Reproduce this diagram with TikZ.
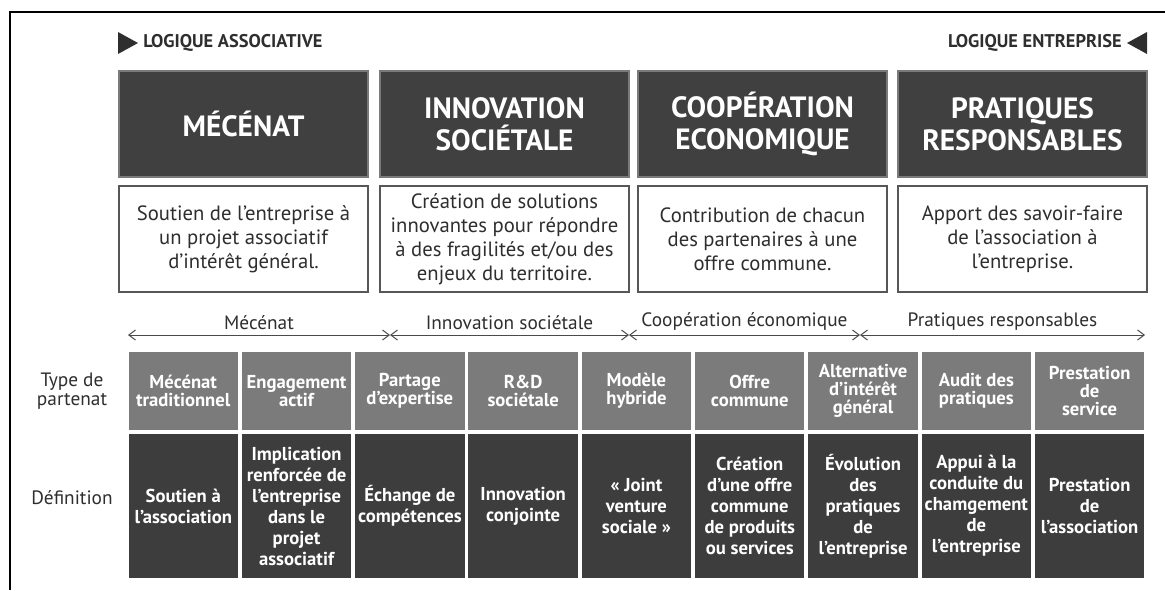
\documentclass[tikz,border=0pt]{standalone}
\usepackage{fontspec}
\setmainfont{PT Sans}
\usepackage{xcolor}
\usetikzlibrary{positioning,arrows.meta}
\definecolor{headfill}{HTML}{404040}
\definecolor{headline}{HTML}{7A7A7A}
\definecolor{boxline}{HTML}{575757}
\definecolor{textgray}{HTML}{2E2E2E}
\definecolor{cellgray}{HTML}{7B7B7B}
\definecolor{celldark}{HTML}{3D3D3D}
\definecolor{spanline}{HTML}{4A4A4A}

\begin{document}
\begin{tikzpicture}[x=0.75pt, y=-0.75pt,
    headbox/.style={draw=headline, line width=0.8pt, fill=headfill, text=white,
      font=\bfseries\fontsize{22}{24}\selectfont, align=center,
      minimum width=186.75pt, minimum height=79.5pt, inner sep=0pt},
    defbox/.style={draw=boxline, line width=1pt, fill=white, text=textgray,
      font=\fontsize{15.5}{18}\selectfont, align=center,
      minimum width=186.75pt, minimum height=79.5pt, inner sep=0pt},
    typecell/.style={fill=cellgray, text=white,
      font=\bfseries\fontsize{14}{13.5}\selectfont, align=center,
      minimum width=82.1pt, minimum height=58.5pt, inner sep=0pt},
    defcell/.style={fill=celldark, text=white,
      font=\bfseries\fontsize{14}{15.75}\selectfont, align=center,
      minimum width=82.1pt, minimum height=108pt, inner sep=0pt},
    rowlabel/.style={text=textgray, font=\fontsize{14.5}{14}\selectfont, align=center},
    logique/.style={text=textgray, font=\bfseries\fontsize{13.8}{14}\selectfont, inner sep=0pt},
    spanlabel/.style={text=textgray, font=\fontsize{14.5}{14}\selectfont},
    span/.style={draw=spanline, line width=0.75pt,
      {Straight Barb[length=5pt,width=7.5pt]}-{Straight Barb[length=5pt,width=7.5pt]}}]
  \useasboundingbox (0,0) rectangle (1165,590);
  \draw[line width=1.5pt] (10,590) -- (10,12) -- (1165,12);

  \fill[textgray] (118,32) -- (138,43) -- (118,54) -- cycle;
  \node[logique, anchor=west] (assoc) at (143,43) {LOGIQUE ASSOCIATIVE};
  \fill[textgray] (1147,32) -- (1127,43) -- (1147,54) -- cycle;
  \node[logique, anchor=east] (entr) at (1122,43) {LOGIQUE ENTREPRISE};

  \node[headbox] (mecenat) at (243.5,124) {MÉCÉNAT};
  \node[headbox] (innovation) at (504.5,124) {INNOVATION\\SOCIÉTALE};
  \node[headbox] (cooperation) at (762.5,124) {COOPÉRATION\\ECONOMIQUE};
  \node[headbox] (pratiques) at (1022.5,124) {PRATIQUES\\RESPONSABLES};

  \node[defbox] (dmecenat) at (243.5,239) {Soutien de l’entreprise à\\un projet associatif\\d’intérêt général.};
  \node[defbox] (dinnovation) at (504.5,239) {Création de solutions\\innovantes pour répondre\\à des fragilités et/ou des\\enjeux du territoire.};
  \node[defbox] (dcooperation) at (762.5,239) {Contribution de chacun\\des partenaires à une\\offre commune.};
  \node[defbox] (dpratiques) at (1022.5,239) {Apport des savoir-faire\\de l’association à\\l’entreprise.};

  \coordinate (s0) at (128,335);
  \coordinate (s1) at (390,335);
  \coordinate (s2) at (629,335);
  \coordinate (s3) at (860,335);
  \coordinate (s4) at (1145,335);
  \draw[span] (s0) -- node[spanlabel, above] {Mécénat} (s1);
  \draw[span] (s1) -- node[spanlabel, above] {Innovation sociétale} (s2);
  \draw[span] (s2) -- node[spanlabel, above] {Coopération économique} (s3);
  \draw[span] (s3) -- node[spanlabel, above] {Pratiques responsables} (s4);

  \node[rowlabel] (typelabel) at (72,391) {Type de\\partenat};
  \node[rowlabel] (deflabel) at (72,498) {Définition};

  \node[typecell] (t1) at (183.25,391) {Mécénat\\traditionnel};
  \node[typecell] (t2) at (296.55,391) {Engagement\\actif};
  \node[typecell] (t3) at (409.85,391) {Partage\\d’expertise};
  \node[typecell] (t4) at (523.15,391) {R\&D\\sociétale};
  \node[typecell] (t5) at (636.45,391) {Modèle\\hybride};
  \node[typecell] (t6) at (749.75,391) {Offre\\commune};
  \node[typecell] (t7) at (863.05,391) {Alternative\\d’intérêt\\général};
  \node[typecell] (t8) at (976.35,391) {Audit des\\pratiques};
  \node[typecell] (t9) at (1089.65,391) {Prestation\\de\\service};

  \node[defcell] (d1) at (183.25,506) {Soutien à\\l’association};
  \node[defcell] (d2) at (296.55,506) {Implication\\renforcée de\\l’entreprise\\dans le\\projet\\associatif};
  \node[defcell] (d3) at (409.85,506) {Échange de\\compétences};
  \node[defcell] (d4) at (523.15,506) {Innovation\\conjointe};
  \node[defcell] (d5) at (636.45,506) {«~Joint\\venture\\sociale~»};
  \node[defcell] (d6) at (749.75,506) {Création\\d’une offre\\commune\\de produits\\ou services};
  \node[defcell] (d7) at (863.05,506) {Évolution\\des\\pratiques\\de\\l’entreprise};
  \node[defcell] (d8) at (976.35,506) {Appui à la\\conduite du\\chamgement\\de\\l’entreprise};
  \node[defcell] (d9) at (1089.65,506) {Prestation\\de\\l’association};
\end{tikzpicture}
\end{document}
